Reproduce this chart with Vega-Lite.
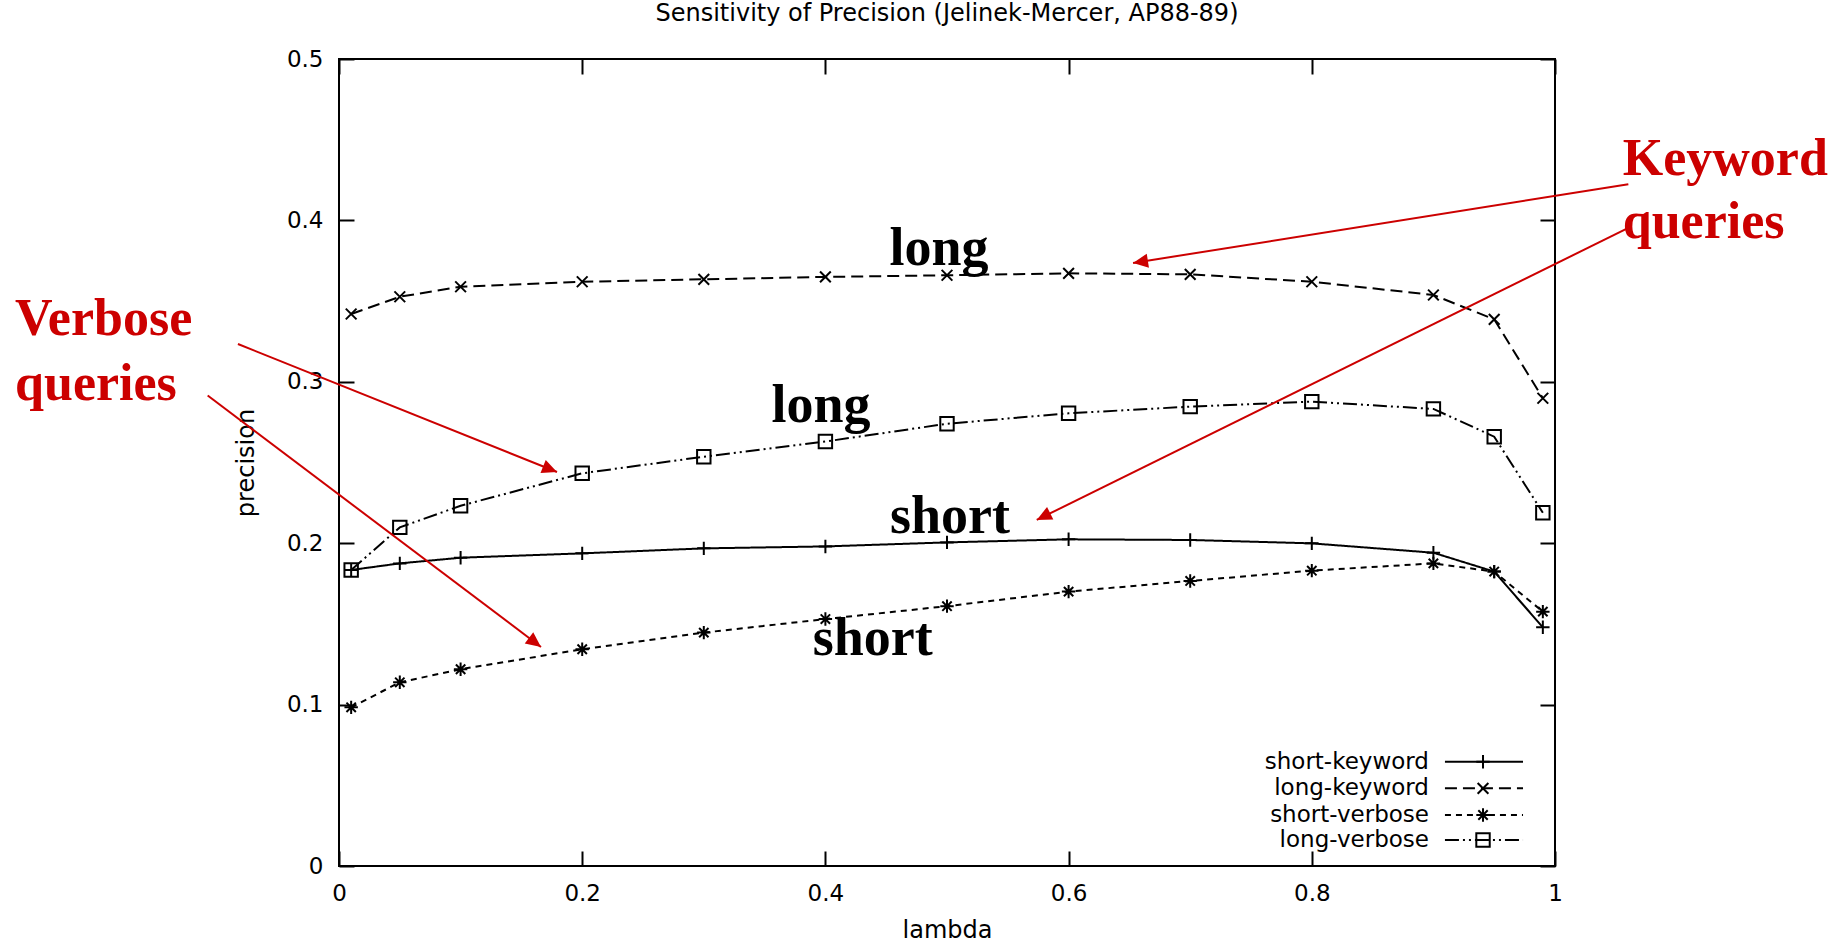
{
  "$schema": "https://vega.github.io/schema/vega-lite/v6.json",
  "width": 1216,
  "height": 807,
  "autosize": {"type": "none"},
  "padding": {"left": 339, "top": 59, "right": 285, "bottom": 80},
  "background": "white",
  "title": {"text": "Sensitivity of Precision (Jelinek-Mercer, AP88-89)", "font": "DejaVu Sans", "fontSize": 24, "fontWeight": "normal", "color": "black", "offset": 22, "anchor": "middle"},
  "config": {
    "view": {"stroke": "black", "strokeWidth": 2},
    "axis": {"grid": false, "domain": false, "labelFont": "DejaVu Sans", "labelFontSize": 23, "labelColor": "black", "titleFont": "DejaVu Sans", "titleFontSize": 24, "titleFontWeight": "normal", "titleColor": "black", "tickColor": "black", "tickWidth": 2, "tickSize": -15}
  },
  "datasets": {
    "curves": [
      {"series": "short-keyword", "lambda": 0.01, "precision": 0.1834},
      {"series": "short-keyword", "lambda": 0.05, "precision": 0.1875},
      {"series": "short-keyword", "lambda": 0.1, "precision": 0.191},
      {"series": "short-keyword", "lambda": 0.2, "precision": 0.1937},
      {"series": "short-keyword", "lambda": 0.3, "precision": 0.1968},
      {"series": "short-keyword", "lambda": 0.4, "precision": 0.198},
      {"series": "short-keyword", "lambda": 0.5, "precision": 0.2005},
      {"series": "short-keyword", "lambda": 0.6, "precision": 0.2024},
      {"series": "short-keyword", "lambda": 0.7, "precision": 0.202},
      {"series": "short-keyword", "lambda": 0.8, "precision": 0.1999},
      {"series": "short-keyword", "lambda": 0.9, "precision": 0.1941},
      {"series": "short-keyword", "lambda": 0.95, "precision": 0.1824},
      {"series": "short-keyword", "lambda": 0.99, "precision": 0.1479},
      {"series": "long-keyword", "lambda": 0.01, "precision": 0.342},
      {"series": "long-keyword", "lambda": 0.05, "precision": 0.3527},
      {"series": "long-keyword", "lambda": 0.1, "precision": 0.3589},
      {"series": "long-keyword", "lambda": 0.2, "precision": 0.362},
      {"series": "long-keyword", "lambda": 0.3, "precision": 0.3635},
      {"series": "long-keyword", "lambda": 0.4, "precision": 0.365},
      {"series": "long-keyword", "lambda": 0.5, "precision": 0.366},
      {"series": "long-keyword", "lambda": 0.6, "precision": 0.3672},
      {"series": "long-keyword", "lambda": 0.7, "precision": 0.3666},
      {"series": "long-keyword", "lambda": 0.8, "precision": 0.362},
      {"series": "long-keyword", "lambda": 0.9, "precision": 0.3538},
      {"series": "long-keyword", "lambda": 0.95, "precision": 0.3387},
      {"series": "long-keyword", "lambda": 0.99, "precision": 0.2898},
      {"series": "short-verbose", "lambda": 0.01, "precision": 0.0983},
      {"series": "short-verbose", "lambda": 0.05, "precision": 0.1138},
      {"series": "short-verbose", "lambda": 0.1, "precision": 0.1219},
      {"series": "short-verbose", "lambda": 0.2, "precision": 0.1343},
      {"series": "short-verbose", "lambda": 0.3, "precision": 0.1446},
      {"series": "short-verbose", "lambda": 0.4, "precision": 0.153},
      {"series": "short-verbose", "lambda": 0.5, "precision": 0.161},
      {"series": "short-verbose", "lambda": 0.6, "precision": 0.17},
      {"series": "short-verbose", "lambda": 0.7, "precision": 0.1766},
      {"series": "short-verbose", "lambda": 0.8, "precision": 0.183},
      {"series": "short-verbose", "lambda": 0.9, "precision": 0.1875},
      {"series": "short-verbose", "lambda": 0.95, "precision": 0.1824},
      {"series": "short-verbose", "lambda": 0.99, "precision": 0.1576},
      {"series": "long-verbose", "lambda": 0.01, "precision": 0.1834},
      {"series": "long-verbose", "lambda": 0.05, "precision": 0.2098},
      {"series": "long-verbose", "lambda": 0.1, "precision": 0.2232},
      {"series": "long-verbose", "lambda": 0.2, "precision": 0.2433},
      {"series": "long-verbose", "lambda": 0.3, "precision": 0.2536},
      {"series": "long-verbose", "lambda": 0.4, "precision": 0.263},
      {"series": "long-verbose", "lambda": 0.5, "precision": 0.274},
      {"series": "long-verbose", "lambda": 0.6, "precision": 0.2805},
      {"series": "long-verbose", "lambda": 0.7, "precision": 0.2846},
      {"series": "long-verbose", "lambda": 0.8, "precision": 0.2877},
      {"series": "long-verbose", "lambda": 0.9, "precision": 0.2832},
      {"series": "long-verbose", "lambda": 0.95, "precision": 0.266},
      {"series": "long-verbose", "lambda": 0.99, "precision": 0.2189}
    ],
    "curveLabels": [
      {"text": "long", "lambda": 0.4934, "precision": 0.3724},
      {"text": "long", "lambda": 0.3964, "precision": 0.2753},
      {"text": "short", "lambda": 0.5025, "precision": 0.2063},
      {"text": "short", "lambda": 0.439, "precision": 0.1307}
    ],
    "groupLabels": [
      {"text": "Keyword", "lambda": 1.0557, "precision": 0.4281},
      {"text": "queries", "lambda": 1.0557, "precision": 0.3889},
      {"text": "Verbose", "lambda": -0.2664, "precision": 0.329},
      {"text": "queries", "lambda": -0.2664, "precision": 0.2887}
    ],
    "arrows": [
      {"lambda": 1.0603, "precision": 0.4224, "lambda2": 0.653, "precision2": 0.3736, "angle": 261},
      {"lambda": 1.062, "precision": 0.396, "lambda2": 0.5738, "precision2": 0.2144, "angle": 243.6},
      {"lambda": -0.0831, "precision": 0.3234, "lambda2": 0.1793, "precision2": 0.2441, "angle": 111.9},
      {"lambda": -0.108, "precision": 0.2915, "lambda2": 0.1661, "precision2": 0.1357, "angle": 127}
    ],
    "legend": [
      {"series": "short-keyword", "lambda": 0.9095, "lambdaMid": 0.9408, "lambda2": 0.9737, "precision": 0.0646},
      {"series": "long-keyword", "lambda": 0.9095, "lambdaMid": 0.9408, "lambda2": 0.9737, "precision": 0.0481},
      {"series": "short-verbose", "lambda": 0.9095, "lambdaMid": 0.9408, "lambda2": 0.9737, "precision": 0.0316},
      {"series": "long-verbose", "lambda": 0.9095, "lambdaMid": 0.9408, "lambda2": 0.9737, "precision": 0.0161}
    ]
  },
  "layer": [
    {
      "data": {"name": "curves"},
      "mark": {"type": "line", "color": "black", "strokeWidth": 2},
      "encoding": {
        "x": {"field": "lambda", "type": "quantitative", "scale": {"domain": [0, 1], "nice": false, "zero": false}, "axis": {"orient": "bottom", "title": "lambda", "values": [0, 0.2, 0.4, 0.6, 0.8, 1], "format": "~g", "labelPadding": 31, "titlePadding": 13, "labelFlush": false}},
        "y": {"field": "precision", "type": "quantitative", "scale": {"domain": [0, 0.5], "nice": false, "zero": false}, "axis": {"orient": "left", "title": "precision", "values": [0, 0.1, 0.2, 0.3, 0.4, 0.5], "format": "~g", "labelPadding": 31, "titlePadding": 28, "labelFlush": false}},
        "strokeDash": {"field": "series", "type": "nominal", "scale": {"domain": ["short-keyword", "long-keyword", "short-verbose", "long-verbose"], "range": [[1, 0], [12, 6], [6, 5], [14, 4, 2, 4, 2, 4]]}, "legend": null}
      }
    },
    {
      "data": {"name": "curves"},
      "mark": {"type": "point", "color": "black", "filled": false, "strokeWidth": 2, "size": 180, "opacity": 1},
      "encoding": {
        "x": {"field": "lambda", "type": "quantitative", "scale": {"domain": [0, 1], "nice": false, "zero": false}, "axis": {"orient": "top", "title": null, "labels": false, "values": [0, 0.2, 0.4, 0.6, 0.8, 1]}},
        "y": {"field": "precision", "type": "quantitative", "scale": {"domain": [0, 0.5], "nice": false, "zero": false}, "axis": {"orient": "right", "title": null, "labels": false, "values": [0, 0.1, 0.2, 0.3, 0.4, 0.5]}},
        "shape": {"field": "series", "type": "nominal", "scale": {"domain": ["short-keyword", "long-keyword", "short-verbose", "long-verbose"], "range": ["M-1,0L1,0M0,-1L0,1", "M-0.8,-0.8L0.8,0.8M-0.8,0.8L0.8,-0.8", "M-1,0L1,0M0,-1L0,1M-0.7,-0.7L0.7,0.7M-0.7,0.7L0.7,-0.7", "square"]}, "legend": null}
      }
    },
    {
      "data": {"name": "arrows"},
      "mark": {"type": "rule", "color": "#cc0000", "strokeWidth": 2},
      "encoding": {
        "x": {"field": "lambda", "type": "quantitative", "scale": {"domain": [0, 1]}, "axis": null},
        "y": {"field": "precision", "type": "quantitative", "scale": {"domain": [0, 0.5]}, "axis": null},
        "x2": {"field": "lambda2"},
        "y2": {"field": "precision2"}
      }
    },
    {
      "data": {"name": "arrows"},
      "mark": {"type": "point", "color": "#cc0000", "filled": true, "opacity": 1, "size": 900, "shape": "M0,0L-0.47,1L0.47,1Z"},
      "encoding": {
        "x": {"field": "lambda2", "type": "quantitative", "scale": {"domain": [0, 1]}, "axis": null},
        "y": {"field": "precision2", "type": "quantitative", "scale": {"domain": [0, 0.5]}, "axis": null},
        "angle": {"field": "angle", "type": "quantitative", "scale": null}
      }
    },
    {
      "data": {"name": "curveLabels"},
      "mark": {"type": "text", "font": "Liberation Serif", "fontWeight": "bold", "fontSize": 54, "align": "center", "baseline": "alphabetic", "color": "black"},
      "encoding": {
        "x": {"field": "lambda", "type": "quantitative", "scale": {"domain": [0, 1]}, "axis": null},
        "y": {"field": "precision", "type": "quantitative", "scale": {"domain": [0, 0.5]}, "axis": null},
        "text": {"field": "text"}
      }
    },
    {
      "data": {"name": "groupLabels"},
      "mark": {"type": "text", "font": "Liberation Serif", "fontWeight": "bold", "fontSize": 52, "align": "left", "baseline": "alphabetic", "color": "#cc0000"},
      "encoding": {
        "x": {"field": "lambda", "type": "quantitative", "scale": {"domain": [0, 1]}, "axis": null},
        "y": {"field": "precision", "type": "quantitative", "scale": {"domain": [0, 0.5]}, "axis": null},
        "text": {"field": "text"}
      }
    },
    {
      "data": {"name": "legend"},
      "mark": {"type": "text", "font": "DejaVu Sans", "fontSize": 23, "align": "right", "baseline": "middle", "color": "black", "dx": -16},
      "encoding": {
        "x": {"field": "lambda", "type": "quantitative", "scale": {"domain": [0, 1]}, "axis": null},
        "y": {"field": "precision", "type": "quantitative", "scale": {"domain": [0, 0.5]}, "axis": null},
        "text": {"field": "series"}
      }
    },
    {
      "data": {"name": "legend"},
      "mark": {"type": "rule", "color": "black", "strokeWidth": 2},
      "encoding": {
        "x": {"field": "lambda", "type": "quantitative", "scale": {"domain": [0, 1]}, "axis": null},
        "x2": {"field": "lambda2"},
        "y": {"field": "precision", "type": "quantitative", "scale": {"domain": [0, 0.5]}, "axis": null},
        "strokeDash": {"field": "series", "type": "nominal", "scale": {"domain": ["short-keyword", "long-keyword", "short-verbose", "long-verbose"], "range": [[1, 0], [12, 6], [6, 5], [14, 4, 2, 4, 2, 4]]}, "legend": null}
      }
    },
    {
      "data": {"name": "legend"},
      "mark": {"type": "point", "color": "black", "filled": false, "strokeWidth": 2, "size": 180, "opacity": 1},
      "encoding": {
        "x": {"field": "lambdaMid", "type": "quantitative", "scale": {"domain": [0, 1]}, "axis": null},
        "y": {"field": "precision", "type": "quantitative", "scale": {"domain": [0, 0.5]}, "axis": null},
        "shape": {"field": "series", "type": "nominal", "scale": {"domain": ["short-keyword", "long-keyword", "short-verbose", "long-verbose"], "range": ["M-1,0L1,0M0,-1L0,1", "M-0.8,-0.8L0.8,0.8M-0.8,0.8L0.8,-0.8", "M-1,0L1,0M0,-1L0,1M-0.7,-0.7L0.7,0.7M-0.7,0.7L0.7,-0.7", "square"]}, "legend": null}
      }
    }
  ],
  "resolve": {"axis": {"x": "independent", "y": "independent"}}
}
